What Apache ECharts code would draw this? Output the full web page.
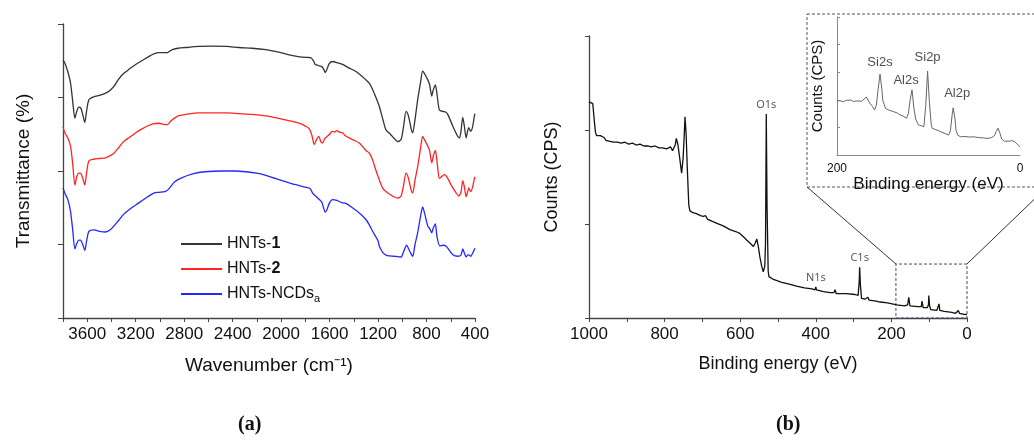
<!DOCTYPE html>
<html>
<head>
<meta charset="utf-8">
<script src="https://cdn.jsdelivr.net/npm/echarts@6/dist/echarts.min.js"></script>
<style>html,body{margin:0;padding:0;background:#fff}#c{width:1034px;height:444px}</style>
</head>
<body>
<div id="c"></div>
<script>
// ---------- DATA ----------
const hnts1 = [[3800,3.51],[3785,3.47],[3760,3.35],[3738,3.20],[3720,2.95],[3702,2.72],[3685,2.82],[3669,2.87],[3655,2.86],[3647,2.83],[3633,2.74],[3620,2.66],[3605,2.82],[3586,2.97],[3545,3.01],[3500,3.03],[3448,3.06],[3410,3.10],[3380,3.15],[3345,3.24],[3311,3.31],[3250,3.39],[3200,3.45],[3140,3.51],[3090,3.56],[3040,3.60],[3008,3.61],[2960,3.61],[2939,3.61],[2920,3.63],[2897,3.65],[2850,3.67],[2787,3.68],[2680,3.695],[2567,3.70],[2450,3.695],[2347,3.68],[2240,3.67],[2126,3.65],[2030,3.62],[1933,3.58],[1870,3.56],[1823,3.55],[1780,3.545],[1754,3.54],[1730,3.49],[1719,3.45],[1700,3.44],[1686,3.43],[1664,3.42],[1650,3.39],[1636,3.34],[1625,3.37],[1603,3.46],[1575,3.49],[1530,3.47],[1493,3.45],[1438,3.40],[1400,3.37],[1355,3.32],[1300,3.24],[1270,3.19],[1245,3.11],[1220,3.01],[1190,2.88],[1160,2.70],[1135,2.56],[1110,2.52],[1093,2.49],[1060,2.43],[1038,2.40],[1010,2.43],[990,2.60],[969,2.81],[955,2.78],[942,2.70],[925,2.56],[914,2.52],[895,2.70],[873,2.97],[850,3.20],[832,3.36],[815,3.32],[790,3.24],[775,3.18],[757,3.02],[745,3.10],[727,3.17],[710,3.00],[694,2.83],[666,2.81],[640,2.80],[625,2.77],[583,2.61],[542,2.47],[528,2.45],[515,2.55],[501,2.73],[487,2.60],[473,2.45],[460,2.55],[451,2.59],[443,2.56],[435,2.54],[420,2.60],[405,2.75],[400,2.78]];
const hnts2 = [[3800,2.60],[3785,2.52],[3760,2.45],[3738,2.34],[3720,2.10],[3702,1.81],[3685,1.93],[3669,1.97],[3655,1.97],[3647,1.95],[3633,1.88],[3620,1.81],[3605,1.98],[3586,2.14],[3545,2.16],[3500,2.17],[3448,2.18],[3410,2.21],[3380,2.24],[3340,2.32],[3300,2.40],[3250,2.46],[3200,2.52],[3140,2.58],[3060,2.64],[3008,2.65],[2960,2.63],[2939,2.63],[2910,2.68],[2850,2.75],[2787,2.77],[2680,2.79],[2567,2.79],[2450,2.79],[2347,2.78],[2240,2.77],[2126,2.75],[2030,2.72],[1920,2.68],[1850,2.65],[1800,2.61],[1770,2.58],[1745,2.48],[1727,2.36],[1710,2.42],[1690,2.47],[1672,2.40],[1660,2.38],[1640,2.44],[1620,2.47],[1600,2.50],[1580,2.54],[1560,2.53],[1540,2.55],[1520,2.53],[1493,2.52],[1470,2.48],[1438,2.45],[1400,2.42],[1355,2.38],[1300,2.28],[1270,2.24],[1245,2.15],[1220,2.02],[1190,1.88],[1160,1.76],[1135,1.72],[1100,1.68],[1070,1.65],[1038,1.63],[1010,1.66],[990,1.80],[969,1.97],[955,1.93],[942,1.85],[925,1.73],[914,1.70],[895,1.88],[873,2.06],[850,2.30],[832,2.47],[815,2.42],[790,2.34],[775,2.28],[757,2.11],[745,2.20],[727,2.28],[710,2.08],[694,1.90],[670,1.93],[650,1.95],[625,1.90],[590,1.79],[555,1.70],[535,1.66],[515,1.72],[501,1.87],[487,1.78],[473,1.65],[460,1.72],[451,1.77],[443,1.74],[435,1.72],[420,1.78],[405,1.90],[400,1.92]];
const hntsNCDs = [[3800,1.77],[3785,1.70],[3760,1.61],[3738,1.45],[3720,1.20],[3702,0.94],[3685,1.02],[3669,1.06],[3655,1.06],[3647,1.04],[3633,0.98],[3620,0.92],[3605,1.05],[3586,1.18],[3545,1.20],[3500,1.18],[3448,1.17],[3410,1.20],[3380,1.25],[3340,1.33],[3300,1.41],[3250,1.48],[3180,1.56],[3100,1.65],[3050,1.70],[3008,1.71],[2960,1.72],[2930,1.75],[2880,1.85],[2830,1.90],[2730,1.96],[2630,1.99],[2480,2.00],[2380,2.00],[2290,1.99],[2200,1.97],[2126,1.94],[2050,1.90],[1933,1.84],[1870,1.81],[1800,1.78],[1760,1.76],[1740,1.70],[1715,1.66],[1690,1.62],[1665,1.58],[1650,1.50],[1636,1.44],[1620,1.48],[1603,1.56],[1575,1.61],[1540,1.60],[1500,1.57],[1466,1.56],[1420,1.51],[1355,1.43],[1300,1.34],[1270,1.26],[1245,1.18],[1200,1.05],[1190,0.98],[1160,0.89],[1124,0.85],[1070,0.84],[1010,0.83],[990,0.90],[964,0.99],[950,0.95],[930,0.88],[914,0.84],[895,1.00],[873,1.16],[850,1.38],[832,1.51],[815,1.42],[790,1.25],[775,1.22],[757,1.16],[745,1.22],[727,1.28],[715,1.12],[690,0.98],[660,0.99],[640,0.98],[625,0.95],[583,0.86],[542,0.84],[515,0.86],[501,0.94],[487,0.88],[473,0.83],[460,0.86],[451,0.86],[435,0.84],[420,0.88],[400,0.95]];
const xpsSurvey = [[1000,2.30],[995,2.31],[990,2.28],[986,2.10],[983,1.98],[980,1.94],[975,1.92],[970,1.94],[965,1.95],[960,1.92],[955,1.89],[945,1.88],[935,1.87],[925,1.87],[915,1.86],[905,1.87],[895,1.85],[885,1.86],[875,1.84],[865,1.85],[855,1.83],[845,1.83],[835,1.82],[825,1.83],[815,1.81],[805,1.81],[795,1.80],[790,1.78],[784,1.82],[779,1.78],[772,1.84],[769,1.91],[765,1.85],[760,1.70],[755,1.54],[751,1.70],[748,1.95],[746,2.14],[743,1.95],[740,1.60],[736,1.20],[733,1.14],[725,1.12],[716,1.11],[705,1.09],[698,1.08],[692,1.09],[689,1.10],[686,1.05],[675,1.03],[663,1.01],[645,0.98],[627,0.94],[612,0.92],[601,0.90],[597,0.91],[590,0.86],[583,0.83],[575,0.80],[565,0.76],[560,0.80],[556,0.84],[552,0.76],[548,0.65],[543,0.55],[539,0.49],[535,0.55],[533,0.80],[531,2.17],[529,1.20],[526,0.50],[524,0.44],[512,0.41],[490,0.38],[470,0.36],[451,0.34],[430,0.32],[410,0.31],[402,0.30],[400,0.33],[398,0.30],[380,0.28],[362,0.27],[352,0.27],[349,0.30],[346,0.26],[320,0.26],[296,0.25],[288,0.24],[285,0.40],[284,0.54],[282,0.35],[279,0.21],[270,0.20],[265,0.20],[262,0.22],[259,0.19],[240,0.18],[230,0.17],[210,0.16],[186,0.14],[165,0.13],[157,0.14],[154,0.22],[151,0.13],[130,0.12],[121,0.12],[119,0.18],[116,0.11],[105,0.11],[102,0.14],[101,0.24],[99,0.13],[96,0.09],[80,0.08],[76,0.09],[74,0.15],[72,0.08],[60,0.07],[40,0.06],[30,0.05],[25,0.06],[23,0.08],[20,0.05],[10,0.04],[0,0.035]];
const xpsInset = [[200,1.95],[197,1.97],[193,1.93],[190,1.98],[185,1.99],[182,1.94],[178,1.96],[176,1.93],[173,1.95],[171,1.96],[168,2.10],[166,2.14],[164,1.87],[161,1.75],[159,1.63],[157,1.80],[155,2.40],[153,2.93],[151,2.40],[150,1.99],[147,1.69],[143,1.62],[138,1.57],[134,1.52],[131,1.45],[127,1.40],[124,1.33],[122,1.50],[120,2.00],[118,2.36],[116,1.70],[114,1.30],[111,1.09],[108,1.06],[105,1.03],[103,1.80],[101,3.04],[99,1.90],[97,1.10],[96,0.97],[92,0.92],[87,0.85],[82,0.78],[78,0.72],[76,0.90],[74,1.50],[73,1.71],[71,1.30],[70,0.90],[68,0.72],[65,0.66],[60,0.67],[55,0.65],[51,0.66],[45,0.63],[40,0.62],[36,0.60],[31,0.63],[28,0.70],[26,0.85],[24,0.97],[22,0.80],[20,0.58],[17,0.50],[15,0.45],[12,0.50],[9,0.52],[6,0.49],[4,0.42],[2,0.36],[0,0.30]];
const surveyPeaks = [[531,2.17,'O1s'],[400,0.33,'N1s'],[284,0.54,'C1s']];
const insetPeaks = [[153,2.93,'Si2s'],[118,2.36,'Al2s'],[101,3.04,'Si2p'],[73,1.71,'Al2p']];
const zoomRange = [188, 0, 0.574]; // eV from, eV to, counts top
const ftirSeriesNames = ['HNTs-1','HNTs-2','HNTs-NCDsa'];

// ---------- CHART ----------
const FONT = 'Liberation Sans, Arial, sans-serif';
const axisCol = '#444';
const chart = echarts.init(document.getElementById('c'), null, {renderer:'canvas'});
const legendFmt = {'HNTs-1':'HNTs-{b|1}','HNTs-2':'HNTs-{b|2}','HNTs-NCDsa':'HNTs-NCDs{sub|a}'};

const option = {
  animation:false,
  backgroundColor:'#fff',
  grid:[
    {left:63, top:24, width:412, height:294},
    {left:589, top:36, width:378, height:282},
    {left:837, top:17, width:183, height:138}
  ],
  xAxis:[
    {gridIndex:0, type:'value', min:400, max:3800, interval:200, inverse:true,
     axisLine:{onZero:false, lineStyle:{color:axisCol, width:1.3}},
     axisTick:{length:4, lineStyle:{color:axisCol}},
     splitLine:{show:false},
     axisLabel:{margin:8, fontSize:17, color:'#111', fontFamily:FONT,
       formatter:v => (v % 400 === 0 ? String(v) : '')},
     name:'Wavenumber (cm\u207B\u00B9)', nameLocation:'middle', nameGap:38,
     nameTextStyle:{fontSize:19, color:'#111', fontFamily:FONT}},
    {gridIndex:1, type:'value', min:0, max:1000, interval:100, inverse:true,
     axisLine:{onZero:false, lineStyle:{color:axisCol, width:1.3}},
     axisTick:{length:4, lineStyle:{color:axisCol}},
     splitLine:{show:false},
     axisLabel:{margin:8, fontSize:17, color:'#111', fontFamily:FONT,
       formatter:v => (v % 200 === 0 ? String(v) : '')},
     name:'Binding energy (eV)', nameLocation:'middle', nameGap:37,
     nameTextStyle:{fontSize:18, color:'#111', fontFamily:FONT}},
    {gridIndex:2, type:'value', min:0, max:200, interval:200, inverse:true,
     axisLine:{onZero:false, lineStyle:{color:'#888', width:1}},
     axisTick:{show:false}, splitLine:{show:false},
     axisLabel:{margin:8, fontSize:12, color:'#111', fontFamily:FONT},
     name:'Binding energy (eV)', nameLocation:'middle', nameGap:8,
     nameTextStyle:{fontSize:17, color:'#111', fontFamily:FONT}}
  ],
  yAxis:[
    {gridIndex:0, type:'value', min:0, max:4, interval:1,
     axisLine:{show:true, onZero:false, lineStyle:{color:axisCol, width:1.3}},
     axisTick:{show:true, length:5, lineStyle:{color:axisCol}},
     axisLabel:{show:false}, splitLine:{show:false},
     name:'Transmittance (%)', nameLocation:'middle', nameGap:30,
     nameTextStyle:{fontSize:19, color:'#111', fontFamily:FONT}},
    {gridIndex:1, type:'value', min:0, max:3, interval:1,
     axisLine:{show:true, onZero:false, lineStyle:{color:axisCol, width:1.3}},
     axisTick:{show:true, length:4, lineStyle:{color:axisCol}},
     axisLabel:{show:false}, splitLine:{show:false},
     name:'Counts (CPS)', nameLocation:'middle', nameGap:28,
     nameTextStyle:{fontSize:18, color:'#111', fontFamily:FONT}},
    {gridIndex:2, type:'value', min:0, max:5, interval:1,
     axisLine:{show:true, onZero:false, lineStyle:{color:'#888', width:1}},
     axisTick:{show:true, inside:true, length:3, lineStyle:{color:'#888'}},
     axisLabel:{show:false}, splitLine:{show:false},
     name:'Counts (CPS)', nameLocation:'middle', nameGap:12,
     nameTextStyle:{fontSize:15, color:'#111', fontFamily:FONT}}
  ],
  legend:{
    data:ftirSeriesNames, orient:'vertical', left:176, top:231,
    itemWidth:41, itemHeight:14, itemGap:9, icon:'path://M0,6L40,6L40,8L0,8Z',
    formatter:n => legendFmt[n],
    textStyle:{fontSize:16, color:'#111', fontFamily:FONT,
      rich:{b:{fontSize:16, fontWeight:'bold', fontFamily:FONT, color:'#111'},
            sub:{fontSize:11, fontFamily:FONT, color:'#111', padding:[9,0,0,0]}}}
  },
  series:[
    {name:'HNTs-1', type:'line', xAxisIndex:0, yAxisIndex:0, data:hnts1, symbol:'none', smooth:0.25,
     lineStyle:{color:'#333', width:1.3}, itemStyle:{color:'#333'}},
    {name:'HNTs-2', type:'line', xAxisIndex:0, yAxisIndex:0, data:hnts2, symbol:'none', smooth:0.25,
     lineStyle:{color:'#ff2424', width:1.3}, itemStyle:{color:'#ff2424'}},
    {name:'HNTs-NCDsa', type:'line', xAxisIndex:0, yAxisIndex:0, data:hntsNCDs, symbol:'none', smooth:0.25,
     lineStyle:{color:'#2626ff', width:1.3}, itemStyle:{color:'#2626ff'}},
    {name:'XPS survey', type:'line', xAxisIndex:1, yAxisIndex:1, data:xpsSurvey, symbol:'none',
     lineStyle:{color:'#111', width:1.3},
     markArea:{silent:true, itemStyle:{color:'rgba(0,0,0,0)', borderColor:'#3b4d72', borderWidth:1, borderType:[3,2]},
       data:[[{xAxis:zoomRange[0], yAxis:0},{xAxis:zoomRange[1], yAxis:zoomRange[2]}]]}},
    {name:'XPS peaks', type:'scatter', xAxisIndex:1, yAxisIndex:1, symbolSize:0.1,
     itemStyle:{color:'rgba(0,0,0,0)'}, silent:true,
     data:surveyPeaks.map(p => ({value:p})),
     label:{show:true, position:'top', distance:4, formatter:p => p.value[2],
       fontSize:11, color:'#222', fontFamily:'Open Sans, Noto Sans, sans-serif'}},
    {name:'XPS inset', type:'line', xAxisIndex:2, yAxisIndex:2, data:xpsInset, symbol:'none',
     lineStyle:{color:'#666', width:1}},
    {name:'Inset peaks', type:'scatter', xAxisIndex:2, yAxisIndex:2, symbolSize:0.1,
     itemStyle:{color:'rgba(0,0,0,0)'}, silent:true,
     data:insetPeaks.map((p,i) => ({value:p, label:{offset:[[0,0],[-6,0],[0,0],[4,0]][i], distance:[5,3,7,8][i]}})),
     label:{show:true, position:'top', formatter:p => p.value[2],
       fontSize:13, color:'#222', fontFamily:FONT}}
  ],
  graphic:[
    {type:'rect', shape:{x:807, y:14, width:240, height:173}, z:0,
     style:{fill:'none', stroke:'#555', lineWidth:1, lineDash:[3,2]}},
    {type:'line', shape:{x1:807, y1:187, x2:896, y2:264}, style:{stroke:'#333', lineWidth:1}},
    {type:'line', shape:{x1:1047, y1:187, x2:967, y2:264}, style:{stroke:'#333', lineWidth:1}},
    {type:'text', left:238, top:415, style:{text:'(a)', font:'bold 20px "Liberation Serif", serif', fill:'#111'}},
    {type:'text', left:776, top:415, style:{text:'(b)', font:'bold 20px "Liberation Serif", serif', fill:'#111'}}
  ]
};
chart.setOption(option);
</script>
</body>
</html>
